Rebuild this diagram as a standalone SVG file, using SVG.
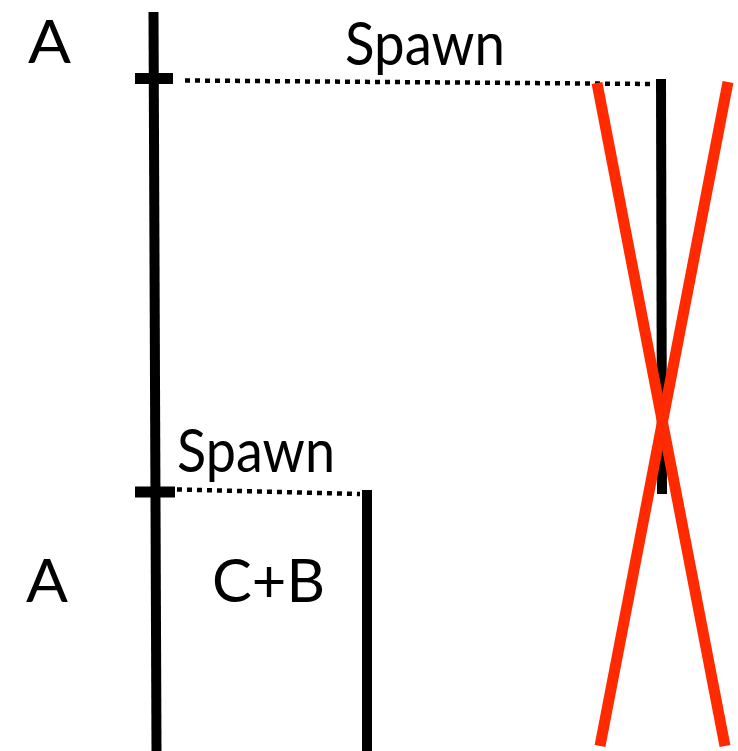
<svg xmlns="http://www.w3.org/2000/svg" width="738" height="751" viewBox="0 0 738 751">
  <style>
    .lbl { font-family: Lato, "Liberation Sans", sans-serif; font-size: 60px; fill: #000; }
    .life { stroke: #000; stroke-width: 10; fill: none; }
    .tick { stroke: #000; stroke-width: 11; fill: none; }
    .dot { stroke: #000; stroke-width: 4.5; stroke-dasharray: 5 5; fill: none; }
    .cross { stroke: #ff2a00; stroke-width: 11; fill: none; }
  </style>
  <rect width="738" height="751" fill="#fff"/>
  <g id="processA">
    <line class="life" x1="153.5" y1="12" x2="156.5" y2="751"/>
    <line class="tick" x1="135" y1="78.5" x2="173" y2="78.5"/>
    <line class="tick" x1="135" y1="492" x2="175" y2="492"/>
    <text class="lbl" x="28" y="63" textLength="43" lengthAdjust="spacingAndGlyphs">A</text>
    <text class="lbl" x="26" y="602" textLength="42" lengthAdjust="spacingAndGlyphs">A</text>
  </g>
  <g id="processKilled">
    <line class="life" x1="661" y1="79" x2="662" y2="494"/>
  </g>
  <g id="processCB">
    <line class="life" x1="367" y1="490" x2="367" y2="751"/>
    <text class="lbl" x="212" y="602" textLength="113" lengthAdjust="spacingAndGlyphs">C+B</text>
  </g>
  <g id="connectors">
    <line class="dot" x1="185" y1="80.5" x2="655" y2="84"/>
    <line class="dot" x1="177" y1="489.5" x2="360" y2="494"/>
    <text class="lbl" x="345" y="65" textLength="160" lengthAdjust="spacingAndGlyphs">Spawn</text>
    <text class="lbl" x="177" y="472" textLength="158" lengthAdjust="spacingAndGlyphs">Spawn</text>
  </g>
  <g id="cross">
    <line class="cross" x1="597" y1="83" x2="725" y2="746"/>
    <line class="cross" x1="728" y1="82" x2="600" y2="746"/>
  </g>
</svg>
